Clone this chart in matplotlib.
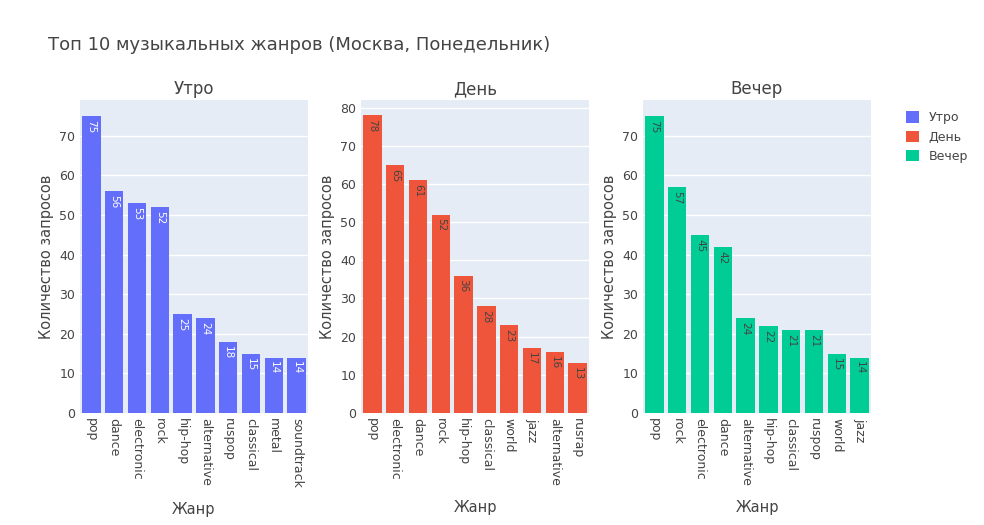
import matplotlib.pyplot as plt
from matplotlib.patches import Patch

morning_genres = ["pop", "dance", "electronic", "rock", "hip-hop", "alternative", "ruspop", "classical", "metal", "soundtrack"]
morning_counts = [75, 56, 53, 52, 25, 24, 18, 15, 14, 14]
day_genres = ["pop", "electronic", "dance", "rock", "hip-hop", "classical", "world", "jazz", "alternative", "rusrap"]
day_counts = [78, 65, 61, 52, 36, 28, 23, 17, 16, 13]
evening_genres = ["pop", "rock", "electronic", "dance", "alternative", "hip-hop", "classical", "ruspop", "world", "jazz"]
evening_counts = [75, 57, 45, 42, 24, 22, 21, 21, 15, 14]

panels = [
    ("Утро", morning_genres, morning_counts, "#636EFA", "white", 79),
    ("День", day_genres, day_counts, "#EF553B", "#444444", 82),
    ("Вечер", evening_genres, evening_counts, "#00CC96", "#444444", 79),
]
lefts = [80, 361, 643]

fig = plt.figure(figsize=(9.84, 5.25), dpi=100)
fig.text(48 / 984, 1 - 45 / 525, "Топ 10 музыкальных жанров (Москва, Понедельник)",
         fontsize=13, color="#444444", va="center")

for (name, genres, counts, color, tcolor, top), left in zip(panels, lefts):
    ax = fig.add_axes([left / 984, 1 - 413 / 525, 228 / 984, 313 / 525])
    ax.set_facecolor("#E5ECF6")
    ax.grid(axis="y", color="white", linewidth=1)
    ax.set_axisbelow(True)
    for s in ax.spines.values():
        s.set_visible(False)
    x = range(len(genres))
    ax.bar(x, counts, width=0.8, color=color)
    for xi, v in zip(x, counts):
        ax.text(xi, v - 1, str(v), rotation=-90, ha="center", va="top",
                fontsize=7.5, color=tcolor)
    ax.set_xlim(-0.5, len(genres) - 0.5)
    ax.set_ylim(0, top)
    ax.set_yticks(range(0, top, 10))
    ax.set_xticks(list(x))
    ax.set_xticklabels(genres, rotation=-90, fontsize=9, color="#444444")
    ax.tick_params(axis="y", labelsize=9, labelcolor="#444444", length=0)
    ax.tick_params(axis="x", length=0)
    ax.set_title(name, fontsize=12, color="#444444", pad=4)
    ax.set_xlabel("Жанр", fontsize=10.5, color="#444444", labelpad=10)
    ax.set_ylabel("Количество запросов", fontsize=10.5, color="#444444")

handles = [Patch(facecolor=p[3], label=p[0]) for p in panels]
fig.legend(handles=handles, loc="upper left", bbox_to_anchor=(895 / 984, 1 - 100 / 525),
           frameon=False, fontsize=9, handlelength=1.0, handleheight=1.0,
           labelcolor="#444444")

fig.savefig("out.png", dpi=100, facecolor="white")
